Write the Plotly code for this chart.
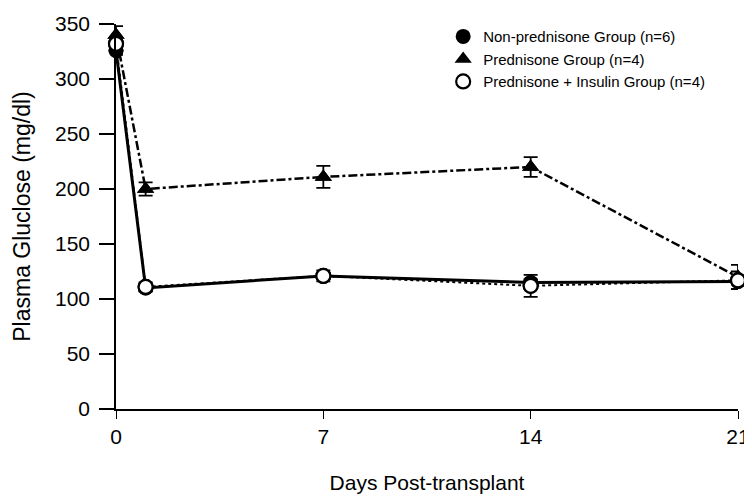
import plotly.graph_objects as go

days = [0, 1, 7, 14, 21]

non_pred = [326, 110, 121, 115, 116]
non_pred_err = [4, 3, 3, 3, 3]

pred = [340, 200, 211, 220, 120]
pred_err = [8, 6, 10, 9, 11]

pred_ins = [332, 111, 121, 112, 117]
pred_ins_err = [4, 4, 5, 10, 8]

names = ["Non-prednisone Group (n=6)", "Prednisone Group (n=4)",
         "Prednisone + Insulin Group (n=4)"]

x_ticks = [0, 7, 14, 21]
y_ticks = [0, 50, 100, 150, 200, 250, 300, 350]

FONT = "Liberation Sans, Arial, Helvetica, sans-serif"

fig = go.Figure()

# lines (drawn from data, hidden from legend)
fig.add_trace(go.Scatter(
    x=days, y=pred, mode="lines+markers", showlegend=False,
    line=dict(color="black", width=2.5, dash="dashdot"),
    marker=dict(symbol="triangle-up", size=15, color="black"),
    error_y=dict(type="data", array=pred_err, color="black", thickness=1.8, width=7),
    cliponaxis=False))
fig.add_trace(go.Scatter(
    x=days, y=non_pred, mode="lines+markers", showlegend=False,
    line=dict(color="black", width=3),
    marker=dict(symbol="circle", size=15, color="black"),
    error_y=dict(type="data", array=non_pred_err, color="black", thickness=1.8, width=7),
    cliponaxis=False))
fig.add_trace(go.Scatter(
    x=days, y=pred_ins, mode="lines+markers", showlegend=False,
    line=dict(color="black", width=2, dash="dot"),
    marker=dict(symbol="circle", size=14, color="white",
                line=dict(color="black", width=2.2)),
    error_y=dict(type="data", array=pred_ins_err, color="black", thickness=1.8, width=7),
    cliponaxis=False))

# legend entries (marker only)
fig.add_trace(go.Scatter(x=days, y=non_pred, mode="markers", name=names[0],
                         marker=dict(symbol="circle", size=15, color="black"),
                         cliponaxis=False))
fig.add_trace(go.Scatter(x=days, y=pred, mode="markers", name=names[1],
                         marker=dict(symbol="triangle-up", size=15, color="black"),
                         cliponaxis=False))
fig.add_trace(go.Scatter(x=days, y=pred_ins, mode="markers", name=names[2],
                         marker=dict(symbol="circle", size=14, color="white",
                                     line=dict(color="black", width=2.2)),
                         cliponaxis=False))

# page body adds an 8px margin, so the figure is sized to fit inside it
fig.update_layout(
    width=744, height=490,
    margin=dict(l=108, r=14, t=13, b=89),
    paper_bgcolor="white", plot_bgcolor="white",
    font=dict(family=FONT, color="black", size=20),
    legend=dict(x=0.526, y=1.01, xanchor="left", yanchor="top",
                font=dict(size=15, family=FONT), bgcolor="rgba(0,0,0,0)",
                tracegroupgap=0, itemsizing="trace"),
)
fig.update_xaxes(range=[0, 21], tickvals=x_ticks, ticks="outside", ticklen=8,
                 tickwidth=1.2, tickcolor="black", showline=True, linecolor="black",
                 linewidth=1.5, showgrid=False, zeroline=False, automargin=False,
                 ticklabeloverflow="allow",
                 tickfont=dict(size=21), title=dict(text="Days Post-transplant",
                 font=dict(size=21), standoff=28))
fig.update_yaxes(range=[0, 350], tickvals=y_ticks, ticks="outside", ticklen=15,
                 tickwidth=1.5, tickcolor="black", showline=True, linecolor="black",
                 linewidth=1.5, showgrid=False, zeroline=False, automargin=False,
                 ticklabelstandoff=5, ticklabeloverflow="allow",
                 tickfont=dict(size=21), title=dict(text="Plasma Gluclose (mg/dl)",
                 font=dict(size=23), standoff=18))

fig.write_html("out.html")
